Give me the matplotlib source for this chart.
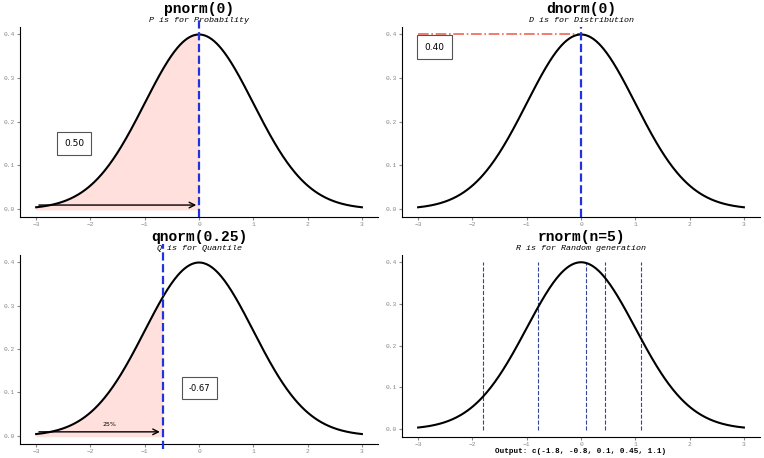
import numpy as np
import matplotlib.pyplot as plt
from matplotlib.transforms import offset_copy

x = np.linspace(-3, 3, 400)
dens = np.exp(-x**2 / 2) / np.sqrt(2 * np.pi)

p_cut = 0.0
p_label = "0.50"
d_point = 0.0
d_label = "0.40"
q_cut = -0.67
q_label = "-0.67"
q_pct = "25%"
r_draws = [-1.8, -0.8, 0.1, 0.45, 1.1]
r_caption = "Output: c(-1.8, -0.8, 0.1, 0.45, 1.1)"

titles = ["pnorm(0)", "dnorm(0)", "qnorm(0.25)", "rnorm(n=5)"]
subtitles = ["P is for Probability", "D is for Distribution",
             "Q is for Quantile", "R is for Random generation"]

mono = "Liberation Mono"
fig = plt.figure(figsize=(7.64, 4.58), dpi=100)
pos = [[0.026, 0.526, 0.469, 0.415], [0.526, 0.526, 0.469, 0.415],
       [0.026, 0.031, 0.469, 0.412], [0.526, 0.046, 0.469, 0.397]]
axes = [fig.add_axes(p) for p in pos]

blue = "#2233dd"
fill = "#ffe0dc"
for i, ax in enumerate(axes):
    ax.plot(x, dens, color="black", lw=1.5, zorder=3)
    ax.set_xlim(-3.3, 3.3)
    ax.set_ylim(-0.018, 0.416)
    ax.set_xticks([-3, -2, -1, 0, 1, 2, 3])
    ax.set_yticks([0, 0.1, 0.2, 0.3, 0.4])
    ax.set_yticklabels(["0.0", "0.1", "0.2", "0.3", "0.4"])
    ax.tick_params(labelsize=4.5, colors="#888888", length=2, pad=1.5,
                   labelcolor="#888888")
    for lab in ax.get_xticklabels() + ax.get_yticklabels():
        lab.set_family(mono)
    for s in ["top", "right"]:
        ax.spines[s].set_visible(False)
    tr1 = offset_copy(ax.transAxes, fig=fig, y=10, units="points")
    tr2 = offset_copy(ax.transAxes, fig=fig, y=3.6, units="points")
    ax.text(0.5, 1.0, titles[i], transform=tr1, ha="center", va="baseline",
            family=mono, weight="bold", fontsize=10.5)
    ax.text(0.5, 1.0, subtitles[i], transform=tr2, ha="center", va="baseline",
            family=mono, style="italic", fontsize=6)

box = dict(boxstyle="square,pad=0.8", fc="white", ec="#555555", lw=0.8)

ax = axes[0]
m = x <= p_cut
ax.fill_between(x[m], 0, dens[m], color=fill, zorder=1)
ax.axvline(p_cut, color=blue, ls="--", lw=1.6, ymin=0, ymax=1.04, clip_on=False, zorder=4)
ax.annotate("", xy=(p_cut, 0.0095), xytext=(-3, 0.0095),
            arrowprops=dict(arrowstyle="->", lw=1, color="black"), zorder=5)
ax.text(-2.3, 0.15, p_label, ha="center", va="center", fontsize=6.5, bbox=box)

ax = axes[1]
ax.plot([-3, d_point], [0.4, 0.4], color="#ee6655", ls="-.", lw=1.2)
ax.axvline(d_point, color=blue, ls="--", lw=1.6, ymin=0, ymax=1.0, zorder=4)
ax.text(-2.7, 0.37, d_label, ha="center", va="center", fontsize=6.5, bbox=box)

ax = axes[2]
m = x <= q_cut
ax.fill_between(x[m], 0, dens[m], color=fill, zorder=1)
ax.axvline(q_cut, color=blue, ls="--", lw=1.6, ymin=-0.03, ymax=1.06, clip_on=False, zorder=4)
ax.annotate("", xy=(q_cut, 0.0095), xytext=(-3, 0.0095),
            arrowprops=dict(arrowstyle="->", lw=1, color="black"), zorder=5)
ax.text(-1.65, 0.022, q_pct, ha="center", fontsize=4.5)
ax.text(0, 0.11, q_label, ha="center", va="center", fontsize=6, bbox=box)

ax = axes[3]
for v in r_draws:
    ax.axvline(v, color="#334499", ls="--", lw=0.8, ymin=0.04, ymax=0.96)
ax.set_xlabel(r_caption, family=mono, weight="bold", fontsize=5.5, labelpad=1)

fig.savefig("out.png", dpi=100)
